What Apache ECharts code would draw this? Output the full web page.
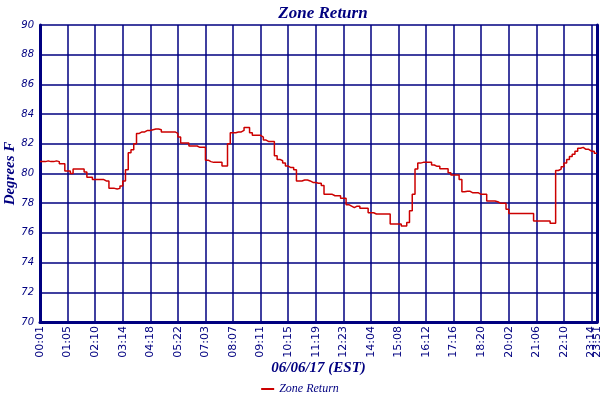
<!DOCTYPE html>
<html>
<head>
<meta charset="utf-8">
<script src="https://cdn.jsdelivr.net/npm/echarts@6/dist/echarts.min.js"></script>
<style>html,body{margin:0;padding:0;background:#fff}#c{width:600px;height:400px}</style>
</head>
<body>
<div id="c"></div>
<script>
const seriesName = 'Zone Return';
const tickLabels = ['00:01','01:05','02:10','03:14','04:18','05:22','07:03','08:07','09:11','10:15','11:19','12:23','14:04','15:08','16:12','17:16','18:20','20:02','21:06','22:10','23:14','23:51'];
const tickIndex = [0,10,20,30,40,50,60,70,80,90,100,110,120,130,140,150,160,170,180,190,200,202];
const values = [
80.8,80.8,80.85,80.8,80.8,80.85,80.8,80.65,80.65,80.17,
80.17,80.0,80.3,80.3,80.3,80.3,80.1,79.75,79.75,79.6,
79.6,79.6,79.6,79.5,79.5,79.0,79.0,78.95,79.0,79.15,
79.5,80.25,81.4,81.6,82.0,82.7,82.8,82.8,82.9,82.9,
82.95,83.0,83.0,82.95,82.8,82.8,82.8,82.8,82.8,82.7,
82.45,82.05,82.05,82.05,81.85,81.85,81.85,81.76,81.76,81.76,
80.9,80.8,80.75,80.75,80.75,80.75,80.5,80.5,82.0,82.75,
82.75,82.8,82.8,82.9,83.1,83.1,82.75,82.57,82.57,82.57,
82.45,82.25,82.15,82.15,82.15,81.2,80.95,80.86,80.7,80.5,
80.4,80.4,80.25,79.5,79.5,79.56,79.56,79.5,79.4,79.4,
79.35,79.35,79.2,78.6,78.6,78.6,78.5,78.5,78.5,78.33,
78.33,77.9,77.8,77.7,77.8,77.8,77.66,77.66,77.66,77.36,
77.36,77.27,77.27,77.27,77.27,77.27,77.27,76.6,76.6,76.6,
76.6,76.46,76.46,76.7,77.5,78.6,80.3,80.7,80.75,80.75,
80.75,80.75,80.57,80.48,80.48,80.32,80.32,80.32,80.05,79.9,
79.9,79.9,79.6,78.77,78.8,78.8,78.7,78.7,78.7,78.6,
78.6,78.6,78.15,78.15,78.15,78.1,78.0,78.0,78.0,77.6,
77.3,77.3,77.3,77.3,77.3,77.3,77.3,77.3,77.3,76.8,
76.8,76.8,76.8,76.8,76.8,76.65,76.65,80.2,80.3,80.45,
80.7,80.95,81.15,81.3,81.5,81.7,81.76,81.63,81.63,81.5,
81.5,81.36,81.36
];
const yMin = 70, yMax = 90, yStep = 2;

const categories = values.map(() => '');
tickIndex.forEach((idx, k) => { categories[idx] = tickLabels[k]; });
const lastIdx = tickIndex[tickIndex.length - 1];
const showTick = (i, v) => v !== '';
const showMain = (i, v) => v !== '' && i !== lastIdx;
const showLast = (i, v) => i === lastIdx;

const navy = '#000080';
const labelStyle = { rotate: 90, color: navy, fontFamily: 'DejaVu Sans', fontSize: 11, margin: 4, hideOverlap: false };
const chart = echarts.init(document.getElementById('c'));
chart.setOption({
  animation: false,
  backgroundColor: '#fff',
  title: {
    text: 'Zone Return', left: 318, top: 0, textAlign: 'center',
    textStyle: { color: navy, fontFamily: 'Liberation Serif', fontStyle: 'italic', fontWeight: 'bold', fontSize: 17 }
  },
  legend: {
    bottom: 0, left: 'center', icon: 'rect', itemWidth: 13, itemHeight: 2, itemGap: 4,
    textStyle: { color: navy, fontFamily: 'Liberation Serif', fontStyle: 'italic', fontSize: 12 }
  },
  grid: { left: 40, right: 3, top: 25, bottom: 78, containLabel: false, outerBoundsMode: 'none' },
  xAxis: [{
    type: 'category', data: categories, boundaryGap: false, position: 'bottom',
    name: '06/06/17 (EST)', nameLocation: 'middle', nameGap: 39, nameMoveOverlap: false,
    nameTextStyle: { color: navy, fontFamily: 'Liberation Serif', fontStyle: 'italic', fontWeight: 'bold', fontSize: 15 },
    axisLine: { lineStyle: { color: navy, width: 3 } },
    axisTick: { show: false },
    axisLabel: Object.assign({ interval: showMain, showMinLabel: true, showMaxLabel: true }, labelStyle),
    splitLine: { show: true, interval: showTick, lineStyle: { color: navy, width: 1.5 } }
  }, {
    type: 'category', data: categories, boundaryGap: false, position: 'bottom',
    axisLine: { show: false }, axisTick: { show: false }, splitLine: { show: false },
    axisLabel: Object.assign({ interval: showLast, showMinLabel: false, showMaxLabel: true }, labelStyle)
  }],
  yAxis: [{
    type: 'value', min: yMin, max: yMax, interval: yStep,
    name: 'Degrees F', nameLocation: 'middle', nameGap: 22, nameMoveOverlap: false,
    nameTextStyle: { color: navy, fontFamily: 'Liberation Serif', fontStyle: 'italic', fontWeight: 'bold', fontSize: 15 },
    axisLine: { show: true, lineStyle: { color: navy, width: 3 } },
    axisTick: { show: false },
    axisLabel: { color: navy, fontFamily: 'DejaVu Sans', fontStyle: 'italic', fontSize: 10, margin: 6 },
    splitLine: { show: true, lineStyle: { color: navy, width: 1.5 } }
  }, {
    type: 'value', min: yMin, max: yMax, interval: yStep, position: 'right',
    axisLine: { show: true, lineStyle: { color: navy, width: 3 } },
    axisTick: { show: false }, axisLabel: { show: false }, splitLine: { show: false }
  }],
  series: [{
    name: seriesName, type: 'line', data: values, step: 'end', xAxisIndex: 0, yAxisIndex: 0,
    showSymbol: false, symbol: 'none',
    lineStyle: { color: '#cc0000', width: 1.5 }, itemStyle: { color: '#cc0000' }
  }]
});
</script>
</body>
</html>
